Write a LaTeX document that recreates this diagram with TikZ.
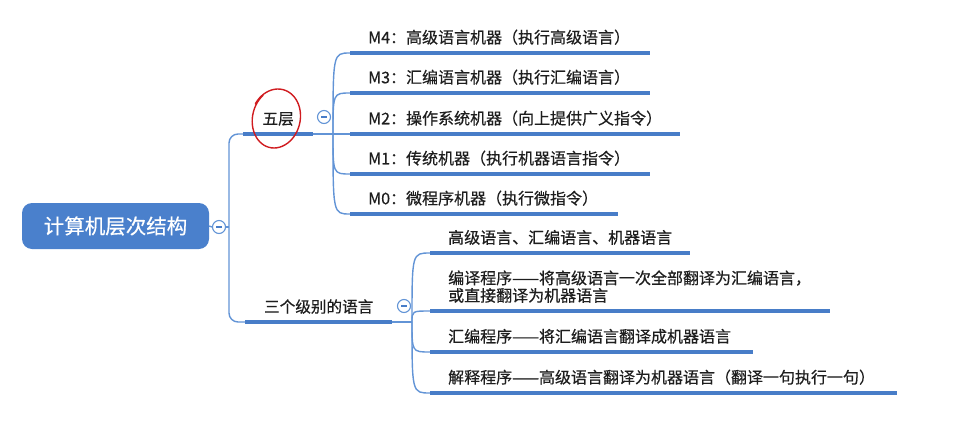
\documentclass[tikz,border=0pt]{standalone}
\usepackage{fontspec}
\setmainfont{Noto Sans CJK SC}[FakeBold=0.5]
\definecolor{rootblue}{RGB}{74,128,204}
\definecolor{lineblue}{RGB}{72,125,200}
\definecolor{wireblue}{RGB}{98,148,214}
\definecolor{inkgray}{RGB}{30,30,30}
\definecolor{markred}{RGB}{208,28,32}

\begin{document}
\begin{tikzpicture}[x=1pt,y=-1pt,
  root/.style={rounded corners=10pt,fill=rootblue,text=white,minimum width=187pt,minimum height=46pt,font=\fontsize{20.5}{24}\selectfont},
  topic/.style={anchor=south west,inner xsep=18pt,inner ysep=8pt,align=left,text=inkgray,font=\fontsize{16}{17.5}\selectfont},
  mid/.style={anchor=south west,inner xsep=0pt,inner ysep=8pt,align=center,text=inkgray,font=\fontsize{15.6}{17.5}\selectfont},
  knob/.style={circle,draw=wireblue,fill=white,line width=1.1pt,minimum size=13pt,inner sep=0pt,
    path picture={\draw[lineblue,line width=1.3pt] ([xshift=-3pt]path picture bounding box.center)--([xshift=3pt]path picture bounding box.center);}},
  uline/.style={lineblue,line width=4pt},
  wire/.style={wireblue,line width=1.4pt},
  redmark/.style={markred,line width=1.4pt,line cap=round}]
\useasboundingbox (0,0) rectangle (960,428);
% root and first fork
\node[root] (root) at (115.5,226) {计算机层次结构};
\node[knob] (c0) at (219,227) {};
\coordinate (f0) at (229,227);
\node[mid,minimum width=70pt] (layers) at (243,134) {五层};
\node[mid,minimum width=147pt] (lang) at (245,322) {三个级别的语言};
\node[knob] (c1) at (324,117) {};
\node[knob] (c2) at (404,306) {};
\coordinate (f1) at (333,134);
\coordinate (f2) at (412,322);
% five levels
\node[topic,text width=264pt] (m4) at (350,53) {M4：高级语言机器（执行高级语言）};
\node[topic,text width=264pt] (m3) at (350,93) {M3：汇编语言机器（执行汇编语言）};
\node[topic,text width=294pt] (m2) at (350,134) {M2：操作系统机器（向上提供广义指令）};
\node[topic,text width=264pt] (m1) at (350,174) {M1：传统机器（执行机器语言指令）};
\node[topic,text width=232pt] (m0) at (350,214) {M0：微程序机器（执行微指令）};
% three languages
\node[topic,text width=224pt] (l1) at (430,253) {高级语言、汇编语言、机器语言};
\node[topic,text width=364pt] (l2) at (430,311) {编译程序——将高级语言一次全部翻译为汇编语言，\\或直接翻译为机器语言};
\node[topic,text width=287pt] (l3) at (430,352) {汇编程序——将汇编语言翻译成机器语言};
\node[topic,text width=431pt] (l4) at (430,393) {解释程序——高级语言翻译为机器语言（翻译一句执行一句）};
% connectors
\draw[wire] (root.east) -- (c0.west);
\draw[wire] (c0.east) -- (f0);
\draw[wire,rounded corners=9pt] (f0) |- (layers.south west);
\draw[wire,rounded corners=9pt] (f0) |- (lang.south west);
\draw[wire] (layers.south east) -- (f1) -- (m2.south west);
\foreach \n in {m4,m3,m1,m0} \draw[wire] (f1) .. controls (f1 |- \n.south west) .. (\n.south west);
\draw[wire] (lang.south east) -- (f2);
\foreach \n in {l1,l2,l3,l4} \draw[wire] (f2) .. controls (f2 |- \n.south west) .. (\n.south west);
\foreach \n in {layers,lang,m4,m3,m2,m1,m0,l1,l2,l3,l4} \draw[uline] (\n.south west) -- (\n.south east);
% hand-drawn ring
\draw[redmark] plot[smooth,domain=-150:232,samples=60,variable=\t]
  ({276+(25-1.5*(\t+150)/382)*cos(\t)-2*sin(\t)},{118.5+29.5*sin(\t)});
\end{tikzpicture}
\end{document}
